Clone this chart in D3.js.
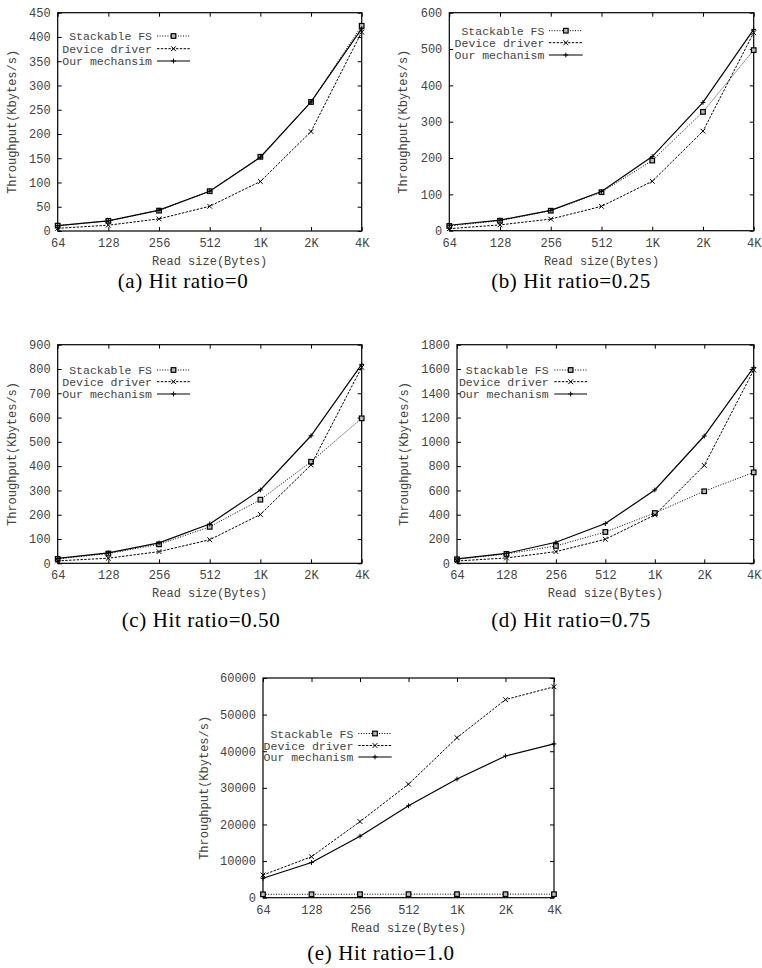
<!DOCTYPE html>
<html><head><meta charset="utf-8">
<script src="https://cdn.jsdelivr.net/npm/d3@7/dist/d3.min.js"></script>
<style>body{margin:0;background:#fff} svg{display:block}</style>
</head><body>
<svg id="c" width="762" height="968"></svg>
<script>
// ---------- data ----------
const categories = ["64","128","256","512","1K","2K","4K"];
const seriesLabels = ["Stackable FS","Device driver","Our mechanism"];
const seriesLabelsA = ["Stackable FS","Device driver","Our mechansim"];
const yAxisTitle = "Throughput(Kbytes/s)";
const xAxisTitle = "Read size(Bytes)";
const captions = ["(a) Hit ratio=0","(b) Hit ratio=0.25","(c) Hit ratio=0.50","(d) Hit ratio=0.75","(e) Hit ratio=1.0"];

const yTicksA = [0,50,100,150,200,250,300,350,400,450];
const yTicksB = [0,100,200,300,400,500,600];
const yTicksC = [0,100,200,300,400,500,600,700,800,900];
const yTicksD = [0,200,400,600,800,1000,1200,1400,1600,1800];
const yTicksE = [0,10000,20000,30000,40000,50000,60000];

const stackableA = [11,21,42,82,153,266,423];
const deviceA    = [5.5,12,25,51,102,205,410];
const oursA      = [11,21,43,82,152,266,417];

const stackableB = [13,27.5,55,106,193,327,497];
const deviceB    = [5.5,16,32,67,136,274,545];
const oursB      = [15,29,56,108,204,353,554];

const stackableC = [18,40,78,150,262,418,597];
const deviceC    = [10,21,48,97,201,405,807];
const oursC      = [20,43,84,162,302,525,819];

const stackableD = [33,77,143,258,414,593,749];
const deviceD    = [19,44,96,198,398,806,1591];
const oursD      = [36,82,173,327,604,1048,1613];

const stackableE = [930,930,950,960,960,960,960];
const deviceE    = [6200,11200,20800,31000,43700,54100,57600];
const oursE      = [5300,9600,16800,25100,32400,38700,42000];

// ---------- layout ----------
const panels = [
  {left:57.7,right:361.7,top:12.7,bottom:231,ticks:yTicksA,data:[stackableA,deviceA,oursA],labels:seriesLabelsA,
   leg:{tx:152,x1:157,x2:190,rows:[36,48.7,61]},ylx:12,cap:captions[0],capx:183,capy:288},
  {left:449.3,right:753.7,top:12.7,bottom:230.7,ticks:yTicksB,data:[stackableB,deviceB,oursB],labels:seriesLabels,
   leg:{tx:544.3,x1:549,x2:582.7,rows:[30.7,42.7,55]},ylx:402.7,cap:captions[1],capx:571,capy:288},
  {left:57.7,right:361.7,top:344.7,bottom:563.3,ticks:yTicksC,data:[stackableC,deviceC,oursC],labels:seriesLabels,
   leg:{tx:152,x1:157,x2:190,rows:[370,381.7,394]},ylx:12,cap:captions[2],capx:201,capy:627},
  {left:457,right:753.7,top:344.7,bottom:563.3,ticks:yTicksD,data:[stackableD,deviceD,oursD],labels:seriesLabels,
   leg:{tx:548.7,x1:554.3,x2:587,rows:[370,381.7,394]},ylx:403.7,cap:captions[3],capx:571,capy:627},
  {left:263,right:554,top:678,bottom:897.7,ticks:yTicksE,data:[stackableE,deviceE,oursE],labels:seriesLabels,
   leg:{tx:353.3,x1:358.3,x2:391.7,rows:[733.5,745.5,757]},ylx:204,cap:captions[4],capx:381,capy:960}
];

const MONO = "'Liberation Mono','DejaVu Sans Mono',monospace";
const SERIF = "'Liberation Serif','DejaVu Serif',serif";
const TXT = "#444";
const styles = [
  {dash:"1,1.6", w:1, marker:"square"},
  {dash:"2.4,1.4", w:1, marker:"cross"},
  {dash:null, w:1.2, marker:"plus"}
];

const svg = d3.select("#c");

function marker(g, type, cx, cy) {
  if (type === "square") {
    g.append("rect").attr("x",cx-2.3).attr("y",cy-2.3).attr("width",4.6).attr("height",4.6)
      .attr("fill","#bbb").attr("stroke","#000").attr("stroke-width",1.2);
  } else if (type === "cross") {
    const r = 2.4;
    g.append("path").attr("d",`M${cx-r},${cy-r}L${cx+r},${cy+r}M${cx-r},${cy+r}L${cx+r},${cy-r}`)
      .attr("stroke","#000").attr("stroke-width",1);
  } else {
    const r = 2.4;
    g.append("path").attr("d",`M${cx-r},${cy}L${cx+r},${cy}M${cx},${cy-r}L${cx},${cy+r}`)
      .attr("stroke","#000").attr("stroke-width",1);
  }
}

function styleAxis(sel) {
  sel.select(".domain").remove();
  sel.selectAll(".tick line").attr("stroke","#000").attr("stroke-width",1);
  sel.selectAll(".tick text").attr("font-family",MONO).attr("font-size",12).attr("fill",TXT);
}

panels.forEach(p => {
  const g = svg.append("g");
  const x = d3.scalePoint().domain(categories).range([p.left,p.right]);
  const ymax = p.ticks[p.ticks.length-1];
  const y = d3.scaleLinear().domain([0,ymax]).range([p.bottom,p.top]);

  g.append("g").attr("transform",`translate(0,${p.bottom})`)
    .call(d3.axisBottom(x).tickSize(-4).tickPadding(7.5)).call(styleAxis);
  g.append("g").attr("transform",`translate(0,${p.top})`)
    .call(d3.axisTop(x).tickSize(-4).tickFormat("")).call(styleAxis);
  g.append("g").attr("transform",`translate(${p.left},0)`)
    .call(d3.axisLeft(y).tickValues(p.ticks).tickSize(-4).tickPadding(7).tickFormat(d3.format("d"))).call(styleAxis);
  g.append("g").attr("transform",`translate(${p.right},0)`)
    .call(d3.axisRight(y).tickValues(p.ticks).tickSize(-4).tickFormat("")).call(styleAxis);

  g.append("rect").attr("x",p.left).attr("y",p.top).attr("width",p.right-p.left).attr("height",p.bottom-p.top)
    .attr("fill","none").attr("stroke","#000").attr("stroke-width",1.2);

  // axis titles
  g.append("text").attr("x",(p.left+p.right)/2).attr("y",p.bottom+34).attr("text-anchor","middle")
    .attr("font-family",MONO).attr("font-size",12).attr("fill",TXT).text(xAxisTitle);
  g.append("text").attr("transform",`translate(${p.ylx+4},${(p.top+p.bottom)/2}) rotate(-90)`)
    .attr("text-anchor","middle").attr("font-family",MONO).attr("font-size",12).attr("fill",TXT).text(yAxisTitle);

  // series
  const line = d3.line().x((d,i)=>x(categories[i])).y(d=>y(d));
  p.data.forEach((vals,si) => {
    const s = styles[si];
    g.append("path").datum(vals).attr("d",line).attr("fill","none").attr("stroke","#000")
      .attr("stroke-width",s.w).attr("stroke-dasharray",s.dash);
    vals.forEach((v,i)=>marker(g,s.marker,x(categories[i]),y(v)));
  });

  // legend
  p.labels.forEach((lab,si) => {
    const s = styles[si], ry = p.leg.rows[si];
    g.append("text").attr("x",p.leg.tx).attr("y",ry).attr("dy","0.35em").attr("text-anchor","end")
      .attr("font-family",MONO).attr("font-size",11.5).attr("fill",TXT).text(lab);
    g.append("line").attr("x1",p.leg.x1).attr("x2",p.leg.x2).attr("y1",ry).attr("y2",ry)
      .attr("stroke","#000").attr("stroke-width",s.w).attr("stroke-dasharray",s.dash);
    marker(g,s.marker,(p.leg.x1+p.leg.x2)/2,ry);
  });

  // caption
  g.append("text").attr("x",p.capx).attr("y",p.capy).attr("text-anchor","middle")
    .attr("font-family",SERIF).attr("font-size",21).attr("letter-spacing","0.6px")
    .attr("fill","#000").text(p.cap);
});
</script>
</body></html>
